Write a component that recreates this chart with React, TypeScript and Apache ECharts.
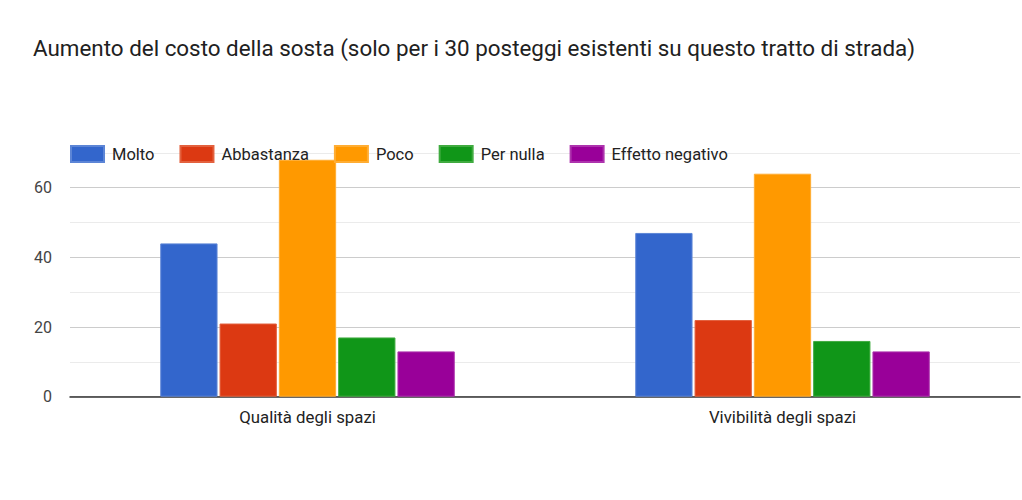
import React, { useEffect, useRef } from "react";
import * as echarts from "echarts";

const titleText = "Aumento del costo della sosta (solo per i 30 posteggi esistenti su questo tratto di strada)";
const categories = ["Qualità degli spazi", "Vivibilità degli spazi"];
const seriesNames = ["Molto", "Abbastanza", "Poco", "Per nulla", "Effetto negativo"];
const molto = [44, 47];
const abbastanza = [21, 22];
const poco = [68, 64];
const perNulla = [17, 16];
const effettoNegativo = [13, 13];
const colors = ["#3366cc", "#dc3912", "#ff9900", "#109618", "#990099"];
const borderColors = ["#5c85d6", "#e3613e", "#ffad33", "#40ab40", "#ad33ad"];
const yTickLabels = [0, 20, 40, 60];

export default function App() {
  const ref = useRef<HTMLDivElement>(null);
  useEffect(() => {
    if (!ref.current) return;
    const chart = echarts.init(ref.current, null, { renderer: "svg" });
    const values = [molto, abbastanza, poco, perNulla, effettoNegativo];
    chart.setOption({
      animation: false,
      backgroundColor: "#ffffff",
      textStyle: { fontFamily: "Roboto" },
      title: {
        text: titleText,
        left: 28,
        top: 32,
        textStyle: { fontFamily: "Roboto", fontSize: 22.4, fontWeight: "normal", color: "#212121" },
      },
      legend: {
        left: 65,
        top: 140,
        itemWidth: 33,
        itemHeight: 16,
        itemGap: 25,
        icon: "rect",
        textStyle: { fontFamily: "Roboto", fontSize: 16.5, color: "#222222", padding: [0, 0, 0, 3] },
        data: seriesNames,
      },
      grid: { left: 70, right: 2, top: 152.8, bottom: 103.3, containLabel: false },
      xAxis: {
        type: "category",
        data: categories,
        axisLine: { show: true, lineStyle: { color: "#333333", width: 1.5 } },
        axisTick: { show: false },
        axisLabel: { fontFamily: "Roboto", fontSize: 16.8, color: "#222222", margin: 12 },
      },
      yAxis: {
        type: "value",
        min: 0,
        max: 70,
        interval: 10,
        axisLine: { show: false },
        axisTick: { show: false },
        axisLabel: {
          fontFamily: "Roboto",
          fontSize: 16,
          color: "#444444",
          margin: 18,
          formatter: (v: number) => (yTickLabels.includes(v) ? String(v) : ""),
        },
        splitLine: { lineStyle: { color: ["#cccccc", "#ebebeb"], width: 1 } },
      },
      series: seriesNames.map((name, i) => ({
        name,
        type: "bar",
        data: values[i],
        barGap: "3.5%",
        barCategoryGap: "38%",
        itemStyle: { color: colors[i], borderColor: borderColors[i], borderWidth: 1 },
      })),
    });
    return () => chart.dispose();
  }, []);
  return (
    <div
      ref={ref}
      style={{ position: "fixed", left: 0, top: 0, width: 1022, height: 500, background: "#fff" }}
    />
  );
}
